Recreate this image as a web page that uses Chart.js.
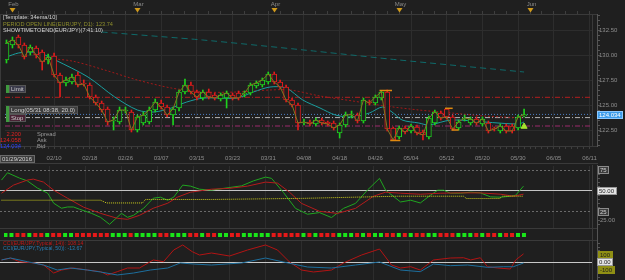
<!DOCTYPE html>
<html>
<head>
<meta charset="utf-8">
<script src="https://cdn.jsdelivr.net/npm/chart.js@4.4.1/dist/chart.umd.min.js"></script>
<style>
  html, body { margin: 0; padding: 0; background: #1f1f1f; overflow: hidden; }
  #wrap { position: relative; width: 625px; height: 280px; }
  canvas { position: absolute; left: 0; display: block; }
</style>
</head>
<body>
<div id="wrap">
  <canvas id="price" width="625" height="165" style="top:0"></canvas>
  <canvas id="stoch" width="625" height="64" style="top:165px"></canvas>
  <canvas id="dots" width="625" height="12" style="top:229px"></canvas>
  <canvas id="cci" width="625" height="39" style="top:241px"></canvas>
</div>
<script>
// ---- data (x = bar index, 0 = 01/29/2016) ----
const monthLabels = ['Feb', 'Mar', 'Apr', 'May', 'Jun'];
const monthIdx = [1, 22, 45, 66, 88];
const dateIdx = [8, 14, 20, 26, 32, 38, 44, 50, 56, 62, 68, 74, 80, 86, 92, 98];
const dateLabels = ['02/10', '02/18', '02/26', '03/07', '03/15', '03/23', '03/31', '04/08',
  '04/18', '04/26', '05/04', '05/12', '05/20', '05/30', '06/05', '06/11'];
const priceTicks = [122.5, 125, 127.5, 130, 132.5];

const opens = [129.5, 131.0, 131.8, 131.0, 130.3, 130.7, 130.3, 129.5, 129.9, 128.0,
  127.2, 127.3, 128.0, 127.2, 127.0, 125.8, 125.2, 124.6, 123.4, 123.3,
  124.4, 124.3, 122.5, 123.2, 123.3, 124.5, 125.2, 124.8, 124.0, 124.7,
  126.3, 127.0, 126.3, 125.7, 126.3, 126.0, 125.6, 125.7, 126.0, 126.2,
  126.1, 126.2, 126.9, 127.0, 127.3, 128.1, 127.3, 126.8, 125.5, 125.0,
  123.2, 123.3, 123.1, 123.5, 123.3, 123.2, 122.2, 123.0, 124.0, 124.0,
  123.4, 125.3, 125.2, 125.7, 126.3, 122.7, 121.8, 122.7, 122.4, 122.8,
  122.3, 121.8, 123.2, 124.2, 124.6, 123.8, 122.7, 123.6, 123.2, 123.6,
  123.1, 123.2, 122.7, 122.4, 122.9, 122.9, 122.7, 123.9];
const highs = [131.5, 131.8, 132.0, 131.2, 131.0, 130.9, 130.5, 130.1, 130.2, 128.2,
  127.8, 128.1, 128.3, 127.5, 127.2, 126.0, 125.4, 124.8, 123.8, 124.8,
  124.8, 124.5, 124.0, 124.3, 124.8, 125.6, 125.5, 125.0, 124.8, 126.5,
  127.6, 127.3, 126.5, 126.5, 126.6, 126.2, 126.2, 126.4, 126.2, 126.4,
  126.4, 127.2, 127.4, 127.7, 128.3, 128.3, 127.5, 127.0, 125.7, 125.2,
  123.6, 123.5, 123.7, 123.7, 123.4, 123.4, 123.2, 124.3, 124.4, 124.2,
  125.7, 125.5, 126.0, 126.43, 126.5, 122.8, 122.9, 122.9, 123.1, 123.0,
  122.5, 123.9, 124.5, 124.4, 124.67, 124.0, 123.5, 124.0, 123.8, 123.8,
  123.8, 123.4, 122.8, 123.1, 123.1, 123.1, 124.0, 124.6];
const lows = [129.2, 130.7, 130.7, 129.6, 130.0, 129.7, 128.5, 129.1, 127.8, 125.8,
  126.9, 127.1, 126.8, 126.9, 125.6, 125.0, 124.3, 123.0, 122.5, 123.1,
  124.2, 122.3, 122.3, 123.0, 123.1, 124.3, 124.6, 123.8, 123.0, 124.4,
  126.1, 126.1, 125.5, 125.5, 125.6, 125.5, 125.4, 124.7, 125.5, 125.5,
  125.8, 126.0, 126.7, 126.8, 127.1, 127.1, 126.6, 125.3, 124.8, 122.5,
  123.0, 122.9, 122.9, 123.0, 122.9, 122.5, 121.7, 122.8, 123.7, 123.2,
  123.2, 125.0, 125.0, 125.5, 122.4, 121.43, 121.6, 122.1, 122.2, 122.0,
  121.5, 121.6, 123.0, 123.5, 123.6, 122.5, 122.5, 123.4, 123.0, 123.0,
  122.9, 122.2, 122.4, 122.2, 122.2, 122.2, 122.5, 123.8];
const closes = [131.2, 131.5, 131.0, 129.8, 130.8, 130.0, 129.3, 129.8, 128.0, 127.2,
  127.5, 127.8, 127.0, 127.1, 125.8, 125.2, 124.5, 123.3, 123.5, 124.5,
  124.5, 122.5, 123.8, 124.0, 124.5, 125.3, 124.8, 124.0, 124.6, 126.3,
  127.0, 126.3, 125.8, 126.3, 125.8, 125.7, 126.0, 126.2, 125.7, 125.7,
  126.2, 127.0, 127.2, 127.5, 128.1, 127.3, 126.8, 125.5, 125.0, 123.2,
  123.3, 123.1, 123.5, 123.2, 123.1, 122.7, 123.0, 124.0, 124.05, 123.4,
  125.5, 125.2, 125.8, 126.3, 122.6, 121.5, 122.7, 122.3, 122.9, 122.2,
  122.0, 123.7, 124.3, 123.7, 123.8, 122.6, 123.3, 123.7, 123.6, 123.2,
  123.6, 122.4, 122.6, 122.9, 122.4, 122.4, 123.8, 124.034];

// moving averages, [bar, value]
const emaFast = [[0, 129.8], [2, 130.2], [4, 130.3], [6, 130.1], [8.2, 129.5], [13.7, 127.8],
  [18.2, 125.8], [22, 124.5], [24.8, 124.3], [27.7, 124.7], [30.3, 125.3], [33.2, 125.7],
  [38.7, 125.7], [41.5, 126.3], [44.3, 126.8], [47, 126.7], [49.8, 125.5], [52.7, 124.7],
  [55.3, 124.0], [58.2, 123.8], [61, 124.2], [63.2, 124.8], [64.8, 124.3], [66.5, 123.5],
  [69.3, 123.2], [71, 123.0], [74.8, 123.5], [80.3, 123.3], [86, 123.1], [87, 123.3]];
const emaSlow = [[6, 129.7], [11, 129.4], [16.5, 128.5], [22, 127.5], [27.7, 126.7],
  [33.2, 126.3], [38.7, 126.3], [44.3, 126.5], [47.7, 126.5], [52.7, 125.9], [58.2, 125.4],
  [63.7, 124.9], [69.3, 124.5], [74.8, 124.2], [80.3, 123.9], [87, 123.7]];
const maLong = [[16, 132.3], [33, 131.5], [50, 130.5], [66, 129.5], [87, 128.3]];

// trade levels
const levelNames = ['Limit', 'Long(05/31 08:38, 20.0)', 'Stop'];
const levelValues = [125.77, 123.74, 122.9];
const askLine = 124.058;
const quoteNames = ['Spread', 'Ask', 'Bid'];
const quoteValues = ['2.200', '124.058', '124.034'];
const lastBid = 124.034;
// swing markers [from bar, to bar, value]
const swings = [[62.7, 64.8, 126.45], [64.5, 66.2, 121.45], [73.7, 75.0, 124.67], [74.8, 76.0, 122.5]];
const signalArrow = [[87, 122.85]];

// stochastic
const stochK = [[0, 62.9], [1, 71.7], [3, 65.3], [4.3, 62], [6, 53.3], [7.7, 47.2], [8.7, 35.2],
  [10, 29.2], [11, 30.7], [12, 30.7], [13, 28], [15, 23.1], [16.5, 18.3], [18, 9.9], [20, 23.1],
  [21, 18.3], [22, 20.7], [23.7, 29.2], [25.3, 41.2], [26.5, 42.4], [27.7, 38.8], [28.7, 42.4],
  [30.2, 56.9], [31.5, 55.7], [33, 52], [35, 50.8], [37, 53], [40, 56], [42, 62], [44, 66.5],
  [45, 65], [47, 48], [49, 29], [51, 22], [53, 24], [55, 18], [57, 29], [59, 35], [61, 51],
  [63, 65], [64, 51], [66.5, 36.7], [68.2, 38.8], [69.8, 35.5], [71.5, 44.8], [72.7, 50.8],
  [73.7, 50.8], [74.8, 47.2], [76.5, 47.2], [78.2, 48.4], [79.8, 47.6], [81.5, 42.8],
  [83.2, 42.4], [84.8, 43.6], [85.7, 44.8], [87, 55.7]];
const stochD = [[0, 47.2], [2, 56.9], [4.3, 62.9], [5.3, 64.1], [7, 60.5], [8.7, 50.8], [11, 41.2],
  [13.7, 30.4], [16.5, 23.1], [19.3, 17.1], [21, 15.9], [23, 20.7], [25.3, 29.2], [27.7, 35.2],
  [29.3, 42.4], [31.5, 48.4], [35, 52], [38, 53], [41, 55.7], [44, 60.5], [46, 59.3], [48, 48.4],
  [50, 35], [53, 25.5], [56, 23], [59, 29], [62, 43.6], [64, 48.4], [66.5, 47.2], [69.8, 46],
  [73.2, 47.2], [76.5, 47.6], [79.8, 47.6], [83.2, 46], [85.3, 43.6], [87, 46]];
const stochSig = [[0, 38.8], [16.5, 38.8], [17.5, 35.5], [23.5, 35.5], [24, 39.7], [35, 39.7],
  [50, 41], [66, 43.6], [77, 43.6], [77.5, 40.8], [83, 40.8], [83.5, 43.6], [87, 43.6]];
const stochMarks = [75, 50, 25];

// trend dots, one per bar
const dotColors = ('GGRRGRRGRR' + 'GGRRRRRRGG' + 'GRGGGGRRGG' + 'GRRGRRGGRR' + 'GGGGGRRRRR' +
  'GRGRRRGGGR' + 'GRGGRRGRGR' + 'RGGRRRGGGR' + 'GRRGRRGG').split('');

// CCI
const cci14 = [[0, 27], [1.5, 53], [3, 4], [5.5, -13], [7, -40], [8.7, -147], [10, -107], [12, -80],
  [14.3, -107], [16.5, -129], [17.7, -173], [19.3, -129], [21, -80], [23, -80], [25.3, 27],
  [27, 4], [28.7, 160], [30.2, 227], [31.8, 137], [33, 93], [35, 120], [38, 80], [41, 160],
  [44, 227], [46, 160], [48, 0], [50, -107], [52, -133], [55, -107], [57, -13], [60, 93],
  [63, 173], [65, -40], [66.5, -80], [68.2, -63], [69.8, -107], [72, 27], [74.8, 53], [77, 57],
  [78.2, 27], [79.8, 57], [81, -63], [82.7, -80], [84.8, -93], [85.7, 27], [87, 108.14]];
const cci50 = [[0, 27], [1.5, 53], [4.3, 4], [7, -40], [9.3, -107], [11.5, -80], [14.3, -107],
  [16.5, -133], [19.3, -173], [22, -147], [24.8, -107], [27.7, -80], [29.8, -13], [32, -27],
  [35, -40], [40, -13], [44, 53], [47, 0], [51, -67], [55, -80], [59, -40], [63, 0],
  [66.5, -107], [69.8, -129], [72, -27], [74.8, -49], [77.7, -40], [81, -71], [83.7, -63],
  [85.3, -63], [87, -13.67]];
const cciMarks = [100, 0, -100];

// ---- look ----
const BG = '#1f1f1f', FRAME = '#3a3a3a', AXIS = '#555555', GRID = '#2d2d2d', TXT = '#8e8e8e';
const UP = '#1ed21e', DOWN = '#e01c1c';
const X_MIN = -0.25, X_MAX = X_MIN + 592 / 6;
const FONT = "'Liberation Sans', Arial, sans-serif";
Chart.defaults.font.family = FONT;
Chart.defaults.font.size = 6;
Chart.defaults.color = TXT;

const pts = arr => arr.map(([x, y]) => ({ x, y }));
const font = px => px + 'px ' + FONT;

function xScale(h, labels, grid) {
  return {
    type: 'linear', min: X_MIN, max: X_MAX, offset: false,
    afterBuildTicks: s => { s.ticks = dateIdx.map(v => ({ value: v })); },
    afterFit: s => { s.height = h; },
    ticks: {
      display: labels, autoSkip: false, maxRotation: 0, padding: 9, color: TXT,
      callback: v => { const k = dateIdx.indexOf(v); return k < 0 ? '' : dateLabels[k]; }
    },
    grid: { display: grid, color: GRID, drawTicks: false, offset: false },
    border: { display: false }
  };
}
function yScale(min, max, ticks) {
  return {
    position: 'right', min, max,
    afterBuildTicks: s => { s.ticks = ticks.map(v => ({ value: v })); },
    afterFit: s => { s.width = 33; },
    ticks: { display: ticks.length > 0, padding: 7, color: TXT, callback: v => v.toFixed(2) },
    grid: { display: ticks.length > 0, color: GRID, drawTicks: false },
    border: { display: false }
  };
}
const base = {
  responsive: false, animation: false, events: [],
  plugins: { legend: { display: false }, tooltip: { enabled: false } }
};

function rightAxis(ctx, ys, top, bottom, step) {
  ctx.save();
  ctx.lineWidth = 1;
  ctx.strokeStyle = FRAME;
  ctx.beginPath(); ctx.moveTo(592.5, top); ctx.lineTo(592.5, bottom); ctx.stroke();
  ctx.strokeStyle = AXIS;
  ctx.beginPath(); ctx.moveTo(597.5, top); ctx.lineTo(597.5, bottom);
  if (step) {
    for (let v = Math.ceil(ys.min / step) * step; v <= ys.max; v += step) {
      const p = Math.floor(ys.getPixelForValue(v)) + 0.5;
      ctx.moveTo(598, p); ctx.lineTo(600, p);
    }
  }
  ctx.stroke();
  ctx.restore();
}
function tag(ctx, x, yc, text, bg, fg, border, size) {
  ctx.font = font(size || 6);
  const w = Math.ceil(ctx.measureText(text).width) + 4;
  const t = Math.round(yc) - 4;
  ctx.fillStyle = bg; ctx.fillRect(x, t, w, 8);
  if (border) { ctx.strokeStyle = border; ctx.lineWidth = 1; ctx.strokeRect(x + 0.5, t + 0.5, w - 1, 7); }
  ctx.fillStyle = fg; ctx.textAlign = 'left'; ctx.textBaseline = 'middle';
  ctx.fillText(text, x + 2, t + 4.5);
  return w;
}

// ---- price panel ----
const candleColor = opens.map((o, i) => closes[i] >= o ? UP : DOWN);
const levelStyles = [['#b31e1e', [5, 2, 1, 2]], ['#b4b4b4', [5, 2, 1, 2]], ['#9c2a6c', [5, 2, 1, 2]]];
const levelBoxes = ['#3a3a4a', '#3d3d3d', '#4a2335'];

const pricePlugin = {
  id: 'priceDeco',
  afterDraw(chart) {
    const { ctx, chartArea: a, scales: { x, y } } = chart;
    ctx.save();
    ctx.lineWidth = 1;
    ctx.strokeStyle = FRAME;
    ctx.beginPath();
    ctx.moveTo(0, 14.5); ctx.lineTo(598, 14.5);
    ctx.moveTo(0, a.bottom + 0.5); ctx.lineTo(598, a.bottom + 0.5);
    ctx.moveTo(0, 163.5); ctx.lineTo(598, 163.5);
    ctx.moveTo(0.5, 14); ctx.lineTo(0.5, a.bottom);
    ctx.stroke();
    // small bar ticks
    ctx.strokeStyle = '#3e3e3e';
    ctx.beginPath();
    for (let i = 0; i <= x.max; i++) {
      const px = Math.floor(x.getPixelForValue(i)) + 0.5;
      ctx.moveTo(px, a.bottom + 1); ctx.lineTo(px, a.bottom + 3);
      if (i % 2 === 0) { ctx.moveTo(px, 11); ctx.lineTo(px, 14); }
    }
    ctx.stroke();
    // months
    ctx.font = font(6); ctx.textAlign = 'center'; ctx.textBaseline = 'middle';
    monthLabels.forEach((m, k) => {
      const px = Math.floor(x.getPixelForValue(monthIdx[k])) + 0.5;
      ctx.fillStyle = '#8a8a8a'; ctx.fillText(m, px + 1, 4.5);
      ctx.fillStyle = '#d09a1c';
      ctx.beginPath(); ctx.moveTo(px - 3, 8); ctx.lineTo(px + 3, 8); ctx.lineTo(px, 12.5); ctx.closePath(); ctx.fill();
    });
    // first date box
    tag(ctx, 0, 159, '01/29/2016', '#3b3b3b', '#d4d4d4', '#6a6a6a');
    // right axis
    rightAxis(ctx, y, 14, a.bottom + 1, 0.5);
    ctx.font = font(6);
    tag(ctx, 597, y.getPixelForValue(lastBid), lastBid.toFixed(3), '#3d9be9', '#ffffff', '#8cc8ff');
    // template texts
    ctx.textAlign = 'left'; ctx.textBaseline = 'middle'; ctx.font = font(5.6);
    ctx.fillStyle = '#d6d6d6'; ctx.fillText('[Template: 34ema/10]', 3, 17.5);
    ctx.fillStyle = '#8d8d2c'; ctx.fillText('PERIOD OPEN LINE(EUR/JPY, D1): 123.74', 3, 24);
    ctx.fillStyle = '#d6d6d6'; ctx.fillText('SHOWTIMETOEND(EUR/JPY)(7:41:10)', 3, 30.5);
    // level tags
    levelNames.forEach((n, k) => {
      const yc = y.getPixelForValue(levelValues[k]) - 8;
      ctx.fillStyle = '#3f9a3f'; ctx.fillRect(6, Math.round(yc) - 4, 3, 8);
      tag(ctx, 9, yc, n, levelBoxes[k], '#cfcfcf', '#555');
    });
    // quotes
    ctx.font = font(5.8);
    const qc = ['#e02222', '#e02222', '#2a40ff'];
    quoteNames.forEach((n, k) => {
      const yy = 134 + k * 6.3;
      ctx.textAlign = 'right'; ctx.fillStyle = qc[k]; ctx.fillText(quoteValues[k], 21, yy);
      ctx.textAlign = 'left'; ctx.fillStyle = '#9a9a9a'; ctx.fillText(n, 37, yy);
    });
    ctx.restore();
  }
};

const priceSets = [
  { type: 'bar', data: opens.map((o, i) => ({ x: i, y: [o, closes[i]] })), backgroundColor: BG,
    borderColor: candleColor, borderWidth: 1, borderSkipped: false, barThickness: 5,
    minBarLength: 1, grouped: false, order: 2 },
  { type: 'bar', data: lows.map((l, i) => ({ x: i, y: [l, highs[i]] })), backgroundColor: candleColor,
    borderWidth: 0, barThickness: 1, grouped: false, order: 3 },
  { type: 'line', data: closes.map((c, i) => ({ x: i, y: c })), borderColor: '#857520', borderWidth: 1,
    pointRadius: 0, order: 1 },
  { type: 'line', data: pts(emaFast), borderColor: '#1a9f9f', borderWidth: 1, pointRadius: 0, tension: 0.3, order: 4 },
  { type: 'line', data: pts(emaSlow), borderColor: '#a11a1a', borderWidth: 1, borderDash: [2, 2], pointRadius: 0, tension: 0.3, order: 4 },
  { type: 'line', data: pts(maLong), borderColor: '#0f6a6a', borderWidth: 1, borderDash: [6, 4], pointRadius: 0, tension: 0.2, order: 4 },
  { type: 'line', data: [{ x: X_MIN, y: askLine }, { x: X_MAX, y: askLine }], borderColor: '#4e7fc4',
    borderWidth: 1, borderDash: [1, 2], pointRadius: 0, order: 6 },
  ...levelValues.map((v, k) => ({ type: 'line', data: [{ x: X_MIN, y: v }, { x: X_MAX, y: v }],
    borderColor: levelStyles[k][0], borderDash: levelStyles[k][1], borderWidth: 1, pointRadius: 0, order: 6 })),
  ...swings.map(([a, b, v]) => ({ type: 'line', data: [{ x: a, y: v }, { x: b, y: v }],
    borderColor: '#e08a10', borderWidth: 1.5, pointRadius: 0, order: 1 })),
  { type: 'line', data: pts(signalArrow), showLine: false, pointStyle: 'triangle', pointRadius: 3.5,
    pointBackgroundColor: '#a6e22e', pointBorderColor: '#a6e22e', order: 0 }
];

new Chart(document.getElementById('price'), {
  type: 'bar',
  data: { datasets: priceSets },
  options: { ...base, layout: { padding: { top: 15, left: 0, right: 0, bottom: 0 } },
    scales: { x: xScale(19, true, true), y: yScale(120.9, 134.0, priceTicks) } },
  plugins: [pricePlugin]
});

// ---- stochastic panel ----
const stochPlugin = {
  id: 'stochDeco',
  beforeDatasetsDraw(chart) {
    const { ctx, chartArea: a, scales: { y } } = chart;
    ctx.save(); ctx.lineWidth = 1;
    stochMarks.forEach(v => {
      const p = Math.floor(y.getPixelForValue(v)) + 0.5;
      ctx.strokeStyle = v === 50 ? '#c4c4c4' : '#6a6a6a';
      ctx.setLineDash(v === 50 ? [] : [2, 2]);
      ctx.beginPath(); ctx.moveTo(a.left, p); ctx.lineTo(a.right, p); ctx.stroke();
    });
    ctx.restore();
  },
  afterDraw(chart) {
    const { ctx, chartArea: a, scales: { y } } = chart;
    ctx.save(); ctx.lineWidth = 1; ctx.strokeStyle = FRAME;
    ctx.beginPath(); ctx.moveTo(0, a.bottom + 0.5); ctx.lineTo(598, a.bottom + 0.5); ctx.stroke();
    rightAxis(ctx, y, 0, a.bottom + 1, 5);
    stochMarks.forEach(v => {
      const p = y.getPixelForValue(v);
      if (v === 50) tag(ctx, 597, p, v.toFixed(2), '#e4e4e4', '#222', '#999');
      else tag(ctx, 598, p, String(v), '#3c3c3c', '#cfcfcf', '#8a8a8a');
    });
    ctx.font = font(6); ctx.fillStyle = TXT; ctx.textAlign = 'left'; ctx.textBaseline = 'middle';
    ctx.fillText((25).toFixed(2), 600, y.getPixelForValue(25) + 8.5);
    ctx.restore();
  }
};
new Chart(document.getElementById('stoch'), {
  type: 'line',
  data: { datasets: [
    { data: pts(stochSig), borderColor: '#cfcf1c', borderWidth: 1, borderDash: [1, 1], pointRadius: 0 },
    { data: pts(stochD), borderColor: '#b41c1c', borderWidth: 1, pointRadius: 0 },
    { data: pts(stochK), borderColor: '#20a620', borderWidth: 1, pointRadius: 0 }
  ] },
  options: { ...base, layout: { padding: { top: 1 } },
    scales: { x: xScale(1, false, true), y: yScale(5.5, 79.8, []) } },
  plugins: [stochPlugin]
});

// ---- trend dots ----
new Chart(document.getElementById('dots'), {
  type: 'line',
  data: { datasets: [{ data: dotColors.map((c, i) => ({ x: i, y: 0 })), showLine: false,
    pointStyle: 'rect', pointRadius: 2.83, borderWidth: 0,
    pointBackgroundColor: dotColors.map(c => c === 'G' ? '#19e619' : '#e61919') }] },
  options: { ...base, layout: { padding: { top: 3 } },
    scales: { x: xScale(0, false, false), y: yScale(-1, 1, []) } },
  plugins: [{
    id: 'dotsDeco',
    afterDraw(chart) {
      const { ctx, scales: { y } } = chart;
      ctx.save(); ctx.lineWidth = 1; ctx.strokeStyle = FRAME;
      ctx.beginPath(); ctx.moveTo(0, 11.5); ctx.lineTo(598, 11.5); ctx.stroke();
      rightAxis(ctx, y, 0, 12, 0);
      ctx.restore();
    }
  }]
});

// ---- CCI panel ----
new Chart(document.getElementById('cci'), {
  type: 'line',
  data: { datasets: [
    { data: pts(cci50), borderColor: '#1d6f9e', borderWidth: 1, pointRadius: 0 },
    { data: pts(cci14), borderColor: '#b31414', borderWidth: 1, pointRadius: 0 }
  ] },
  options: { ...base, layout: { padding: { top: 0 } },
    scales: { x: xScale(0, false, true), y: yScale(-240, 280, []) } },
  plugins: [{
    id: 'cciDeco',
    beforeDatasetsDraw(chart) {
      const { ctx, chartArea: a, scales: { y } } = chart;
      const p = Math.floor(y.getPixelForValue(0)) + 0.5;
      ctx.save(); ctx.strokeStyle = '#c8c8c8'; ctx.lineWidth = 1;
      ctx.beginPath(); ctx.moveTo(a.left, p); ctx.lineTo(a.right, p); ctx.stroke();
      ctx.restore();
    },
    afterDraw(chart) {
      const { ctx, chartArea: a, scales: { y } } = chart;
      ctx.save();
      rightAxis(ctx, y, 0, 39, 50);
      cciMarks.forEach(v => {
        const p = y.getPixelForValue(v);
        if (v === 0) tag(ctx, 597, p, v.toFixed(2), '#e4e4e4', '#222', '#999');
        else tag(ctx, 598, p, String(v), '#8f8f14', '#1c1c1c');
      });
      ctx.font = font(5.2); ctx.textAlign = 'left'; ctx.textBaseline = 'middle';
      ctx.fillStyle = '#c01818'; ctx.fillText('CCI(EUR/JPY,Typical, 14)): ' + cci14[cci14.length - 1][1].toFixed(2), 3, 2.5);
      ctx.fillStyle = '#2a7db3'; ctx.fillText('CCI(EUR/JPY,Typical, 50)): ' + cci50[cci50.length - 1][1].toFixed(2), 3, 7.5);
      ctx.restore();
    }
  }]
});
</script>
</body>
</html>
